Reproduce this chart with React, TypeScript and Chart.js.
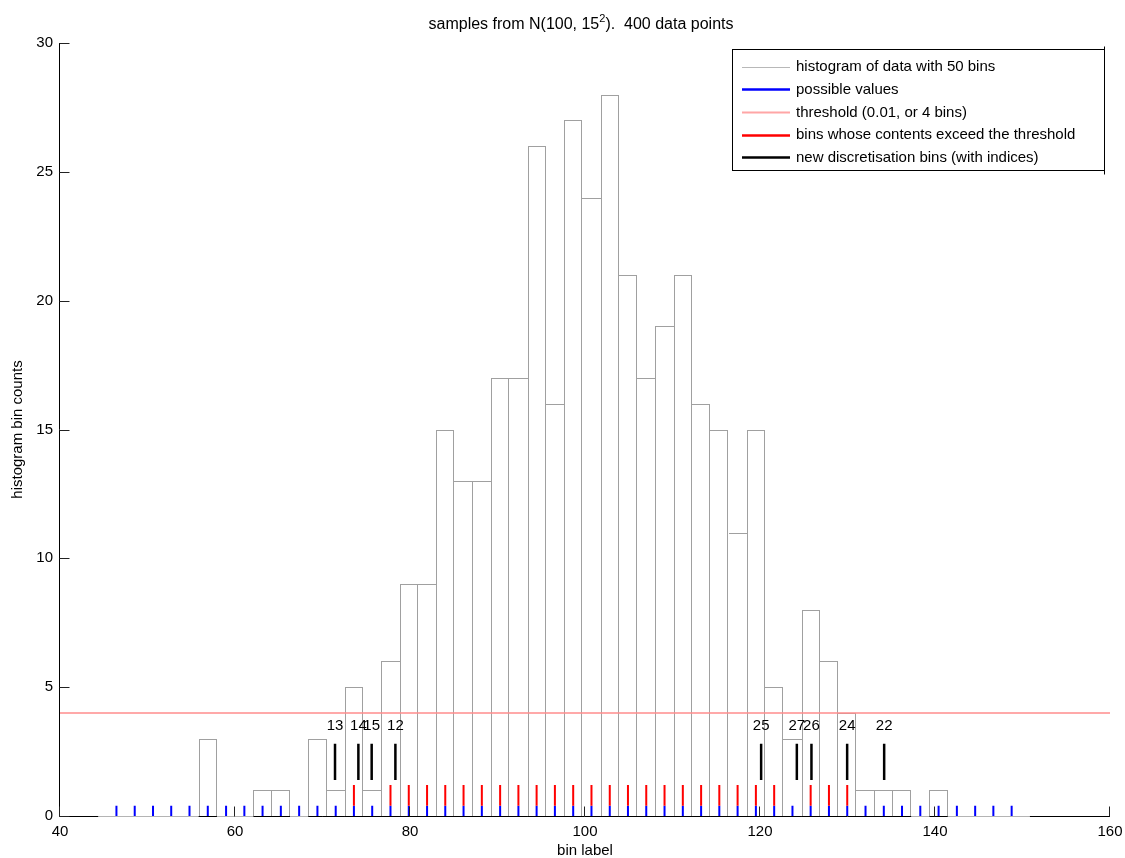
import React, { useEffect, useRef } from 'react';
import { Chart, registerables } from 'chart.js';

Chart.register(...registerables);

const FONT = "'Liberation Sans', Arial, Helvetica, sans-serif";

// ---- data ----
const titleMain = 'samples from N(100, 15';
const titleSup = '2';
const titleTail = ').  400 data points';
const xAxisTitle = 'bin label';
const yAxisTitle = 'histogram bin counts';

const xTicks = [40, 60, 80, 100, 120, 140, 160];
const yTicks = [0, 5, 10, 15, 20, 25, 30];

// centres of the 50 histogram bins
const binCenters = [
  46.45, 48.54, 50.63, 52.71, 54.8, 56.89, 58.98, 61.07, 63.15, 65.24,
  67.33, 69.42, 71.51, 73.59, 75.68, 77.77, 79.86, 81.95, 84.03, 86.12,
  88.21, 90.3, 92.39, 94.47, 96.56, 98.65, 100.74, 102.83, 104.91, 107.0,
  109.09, 111.18, 113.27, 115.35, 117.44, 119.53, 121.62, 123.71, 125.79, 127.88,
  129.97, 132.06, 134.15, 136.23, 138.32, 140.41, 142.5, 144.59, 146.67, 148.76,
];
const binWidth = 2.088;
const binCounts = [
  0, 0, 0, 0, 0, 3, 0, 0, 1, 1,
  0, 3, 1, 5, 1, 6, 9, 9, 15, 13,
  13, 17, 17, 26, 16, 27, 24, 28, 21, 17,
  19, 21, 16, 15, 11, 15, 5, 3, 8, 6,
  4, 1, 1, 1, 0, 1, 0, 0, 0, 0,
];
const threshold = 4;

// new discretisation bins
const newBinX = [71.43, 74.1, 75.62, 78.33, 120.13, 124.21, 125.88, 129.96, 134.19];
const newBinIdx = ['13', '14', '15', '12', '25', '27', '26', '24', '22'];

const possibleSpan = [0, 0.4];
const exceedSpan = [0.4, 1.2];
const newBinSpan = [1.4, 2.8];
const newBinLabelY = 3.5;

const legendLabels = [
  'histogram of data with 50 bins',
  'possible values',
  'threshold (0.01, or 4 bins)',
  'bins whose contents exceed the threshold',
  'new discretisation bins (with indices)',
];

// ---- helpers ----
const segs = (xs: number[], span: number[]) =>
  xs.flatMap((v) => [
    { x: v, y: span[0] },
    { x: v, y: span[1] },
    { x: v, y: null as any },
  ]);

const exceedX = binCenters.filter((_, i) => binCounts[i] >= threshold);

const COLORS = {
  hist: '#a0a0a0',
  histLegend: '#b8b8b8',
  possible: '#0000ff',
  threshold: '#ff8c8c',
  exceed: '#ff0000',
  newBin: '#000000',
};

// snap histogram bars to whole pixels so their 1px outlines stay crisp
const snapBars = {
  id: 'snapBars',
  afterDatasetsUpdate(chart: any) {
    const meta = chart.getDatasetMeta(0);
    meta.data.forEach((el: any) => {
      const l = Math.round(el.x - el.width / 2);
      const r = Math.round(el.x + el.width / 2);
      el.x = (l + r) / 2;
      el.width = r - l;
      el.y = Math.round(el.y);
      el.base = Math.round(el.base) + 1;
    });
  },
};

const overlay = {
  id: 'matlabOverlay',
  afterDraw(chart: any) {
    const { ctx, chartArea: a, scales } = chart;
    const xs = scales.x;
    const ys = scales.y;
    ctx.save();

    // axis lines
    const by = Math.round(a.bottom) + 0.5;
    const lx = Math.round(a.left) - 0.5;
    ctx.strokeStyle = '#000';
    ctx.lineWidth = 1;
    ctx.beginPath();
    ctx.moveTo(lx, a.top);
    ctx.lineTo(lx, by);
    ctx.lineTo(a.right, by);
    ctx.stroke();

    // grey baseline of histogram where bins are empty
    ctx.strokeStyle = '#b4b4b4';
    ctx.beginPath();
    let start = binCenters[0] - binWidth;
    binCenters.forEach((c, i) => {
      if (binCounts[i] > 0) {
        ctx.moveTo(xs.getPixelForValue(start), by);
        ctx.lineTo(xs.getPixelForValue(c - binWidth / 2), by);
        start = c + binWidth / 2;
      }
    });
    ctx.moveTo(xs.getPixelForValue(start), by);
    ctx.lineTo(xs.getPixelForValue(binCenters[binCenters.length - 1] + binWidth), by);
    ctx.stroke();

    // inward tick marks
    ctx.strokeStyle = '#222';
    ctx.beginPath();
    yTicks.forEach((v) => {
      const py = Math.round(ys.getPixelForValue(v)) + 0.5;
      ctx.moveTo(lx, py);
      ctx.lineTo(lx + 10, py);
    });
    xTicks.forEach((v) => {
      const px = Math.round(xs.getPixelForValue(v)) - 0.5;
      ctx.moveTo(px, by);
      ctx.lineTo(px, by - 10);
    });
    ctx.stroke();

    // labels of the new bins
    ctx.fillStyle = '#000';
    ctx.font = `15px ${FONT}`;
    ctx.textAlign = 'center';
    ctx.textBaseline = 'middle';
    newBinX.forEach((v, i) => {
      ctx.fillText(newBinIdx[i], xs.getPixelForValue(v), ys.getPixelForValue(newBinLabelY));
    });

    // title with superscript
    const cx = (a.left + a.right) / 2 - 4;
    ctx.textAlign = 'left';
    ctx.textBaseline = 'alphabetic';
    ctx.font = `16px ${FONT}`;
    const w1 = ctx.measureText(titleMain).width;
    const w3 = ctx.measureText(titleTail).width;
    ctx.font = `11px ${FONT}`;
    const w2 = ctx.measureText(titleSup).width;
    let tx = cx - (w1 + w2 + w3) / 2;
    const tb = 28.5;
    ctx.font = `16px ${FONT}`;
    ctx.fillText(titleMain, tx, tb);
    tx += w1;
    ctx.font = `11px ${FONT}`;
    ctx.fillText(titleSup, tx, tb - 7);
    tx += w2;
    ctx.font = `16px ${FONT}`;
    ctx.fillText(titleTail, tx, tb);

    // axis titles
    ctx.font = `15px ${FONT}`;
    ctx.textAlign = 'center';
    ctx.textBaseline = 'middle';
    ctx.fillText(xAxisTitle, (a.left + a.right) / 2, 851);
    ctx.save();
    ctx.translate(18, (a.top + a.bottom) / 2);
    ctx.rotate(-Math.PI / 2);
    ctx.fillText(yAxisTitle, 0, 0);
    ctx.restore();

    // legend
    const L = 732.5, T = 49.5, R = 1104.5, B = 170.5;
    ctx.fillStyle = '#fff';
    ctx.fillRect(L, T, R - L, B - T);
    ctx.strokeStyle = '#000';
    ctx.lineWidth = 1;
    ctx.strokeRect(L, T, R - L, B - T);
    ctx.beginPath();
    ctx.moveTo(R, T - 3);
    ctx.lineTo(R, B + 4);
    ctx.stroke();
    const styles = [
      { c: COLORS.histLegend, w: 1 },
      { c: COLORS.possible, w: 2.5 },
      { c: '#ffa6a6', w: 2 },
      { c: COLORS.exceed, w: 2.5 },
      { c: COLORS.newBin, w: 2.5 },
    ];
    ctx.font = `15px ${FONT}`;
    ctx.textAlign = 'left';
    ctx.textBaseline = 'middle';
    legendLabels.forEach((lab, i) => {
      const ry = 66.7 + i * 22.65;
      ctx.strokeStyle = styles[i].c;
      ctx.lineWidth = styles[i].w;
      ctx.beginPath();
      ctx.moveTo(742, Math.round(ry) + 0.5);
      ctx.lineTo(790, Math.round(ry) + 0.5);
      ctx.stroke();
      ctx.fillStyle = '#000';
      ctx.fillText(lab, 796, ry + 0.5);
    });

    ctx.restore();
  },
};

export default function App() {
  const ref = useRef<HTMLCanvasElement>(null);

  useEffect(() => {
    if (!ref.current) return;
    const tickFont = { family: FONT, size: 15 };
    const chart = new Chart(ref.current, {
      type: 'bar',
      data: {
        datasets: [
          {
            type: 'bar',
            label: legendLabels[0],
            data: binCenters.map((c, i) => ({ x: c, y: binCounts[i] })),
            backgroundColor: '#ffffff',
            borderColor: COLORS.hist,
            borderSkipped: false,
            borderWidth: (ctx: any) => {
              const i = ctx.dataIndex;
              const h = binCounts[i] ?? 0;
              const prev = i > 0 ? binCounts[i - 1] : 0;
              const next = i < binCounts.length - 1 ? binCounts[i + 1] : 0;
              return {
                top: h > 0 ? 1 : 0,
                left: h > prev ? 1 : 0,
                right: h > 0 && h >= next ? 1 : 0,
                bottom: 0,
              };
            },
            inflateAmount: 0,
            barPercentage: 1,
            categoryPercentage: 1,
            grouped: false,
            order: 5,
          } as any,
          {
            type: 'line',
            label: legendLabels[2],
            data: [
              { x: xTicks[0], y: threshold },
              { x: xTicks[xTicks.length - 1], y: threshold },
            ],
            borderColor: COLORS.threshold,
            borderWidth: 1.5,
            pointRadius: 0,
            order: 4,
          } as any,
          {
            type: 'line',
            label: legendLabels[1],
            data: segs(binCenters, possibleSpan),
            borderColor: COLORS.possible,
            borderWidth: 2,
            borderCapStyle: 'butt',
            pointRadius: 0,
            spanGaps: false,
            order: 3,
          } as any,
          {
            type: 'line',
            label: legendLabels[3],
            data: segs(exceedX, exceedSpan),
            borderColor: COLORS.exceed,
            borderWidth: 2,
            borderCapStyle: 'butt',
            pointRadius: 0,
            spanGaps: false,
            order: 2,
          } as any,
          {
            type: 'line',
            label: legendLabels[4],
            data: segs(newBinX, newBinSpan),
            borderColor: COLORS.newBin,
            borderWidth: 2.5,
            borderCapStyle: 'butt',
            pointRadius: 0,
            spanGaps: false,
            order: 1,
          } as any,
        ],
      },
      options: {
        responsive: false,
        animation: false,
        devicePixelRatio: 1,
        events: [],
        layout: { padding: { top: 43, right: 15, left: 0, bottom: 0 } },
        plugins: {
          legend: { display: false },
          tooltip: { enabled: false },
          title: { display: false },
        },
        scales: {
          x: {
            type: 'linear',
            min: xTicks[0],
            max: xTicks[xTicks.length - 1],
            offset: false,
            grid: { display: false, drawTicks: false },
            border: { display: false },
            afterBuildTicks: (s: any) => {
              s.ticks = xTicks.map((v) => ({ value: v }));
            },
            afterFit: (s: any) => {
              s.height = 42;
              s.paddingLeft = 0;
              s.paddingRight = 0;
            },
            ticks: {
              font: tickFont,
              color: '#000',
              padding: 7,
              maxRotation: 0,
              autoSkip: false,
            },
          },
          y: {
            type: 'linear',
            min: yTicks[0],
            max: yTicks[yTicks.length - 1],
            grid: { display: false, drawTicks: false },
            border: { display: false },
            afterBuildTicks: (s: any) => {
              s.ticks = yTicks.map((v) => ({ value: v }));
            },
            afterFit: (s: any) => {
              s.width = 60;
              s.paddingTop = 0;
              s.paddingBottom = 0;
            },
            ticks: {
              font: tickFont,
              color: '#000',
              padding: 7,
            },
          },
        },
      } as any,
      plugins: [snapBars, overlay],
    });
    return () => chart.destroy();
  }, []);

  return (
    <div style={{ position: 'absolute', left: 0, top: 0, width: 1125, height: 858, background: '#fff' }}>
      <canvas ref={ref} width={1125} height={858} />
    </div>
  );
}
